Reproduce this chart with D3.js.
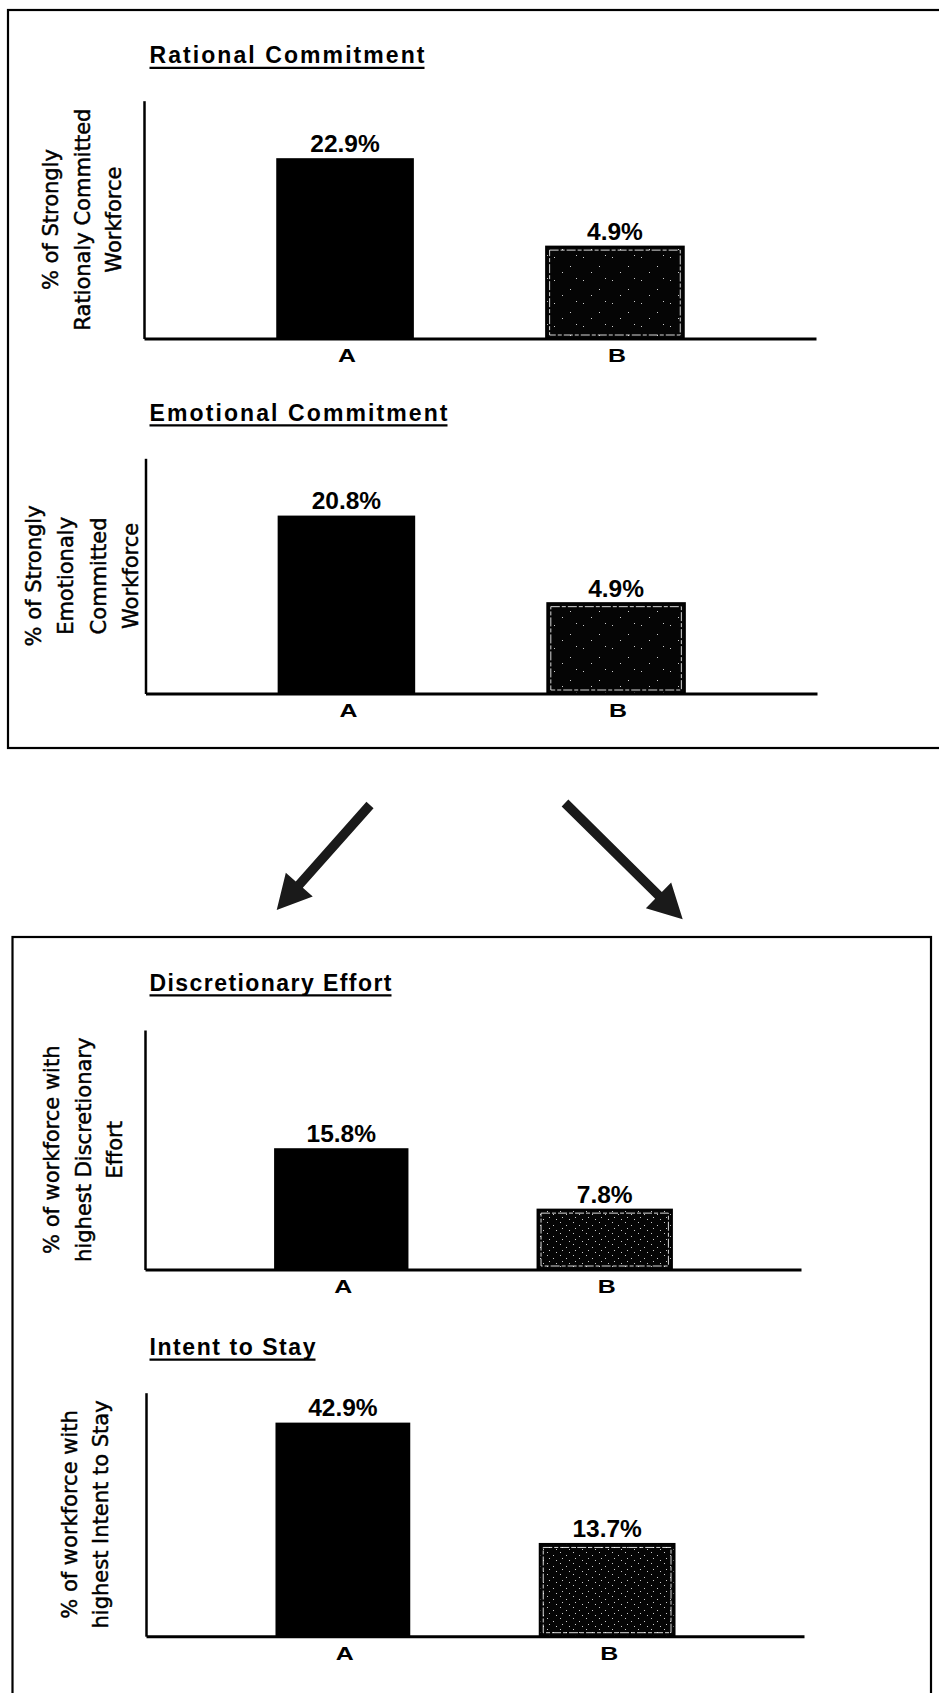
<!DOCTYPE html>
<html>
<head>
<meta charset="utf-8">
<script src="https://cdn.jsdelivr.net/npm/d3@7"></script>
<style>
  html, body { margin: 0; padding: 0; background: #fff; }
  svg { display: block; }
</style>
</head>
<body>
<svg id="fig" width="939" height="1693"></svg>
<script>
// ---- data ----
const categories = ["A", "B"];
const rationalValues  = [22.9, 4.9];
const emotionalValues = [20.8, 4.9];
const effortValues    = [15.8, 7.8];
const stayValues      = [42.9, 13.7];

const panelTitles = [
  "Rational Commitment",
  "Emotional Commitment",
  "Discretionary Effort",
  "Intent to Stay"
];
const axisTitles = [
  ["% of Strongly", "Rationaly Committed", "Workforce"],
  ["% of Strongly", "Emotionaly", "Committed", "Workforce"],
  ["% of workforce with", "highest Discretionary", "Effort"],
  ["% of workforce with", "highest Intent to Stay"]
];
const seriesValues = [rationalValues, emotionalValues, effortValues, stayValues];

// ---- layout of each small chart (value domain is per chart, axes carry no ticks) ----
const layout = [
  { top: 100.7,  base: 338.5,  left: 144,   right: 816, domain: [-13.8, 34.6], titleY: 63.3,  titleW: 275, labelX: 84, gap: 31.5, texture: "speckSparse" },
  { top: 458.3,  base: 693.5,  left: 145.5, right: 817, domain: [-11.5, 31.2], titleY: 420.7, titleW: 298, labelX: 84, gap: 32.3, texture: "speckSparse" },
  { top: 1030,   base: 1269.5, left: 145,   right: 801, domain: [0, 31.2],     titleY: 990.7, titleW: 242, labelX: 85, gap: 31.5, texture: "speckDense" },
  { top: 1392.7, base: 1636.2, left: 146,   right: 804, domain: [-8.5, 50.1],  titleY: 1355,  titleW: 166, labelX: 87, gap: 30.5, texture: "speckDense" }
];

const svg = d3.select("#fig");
const defs = svg.append("defs");

// stippled fill for the second bar
function speckPattern(id, w, h, dots) {
  const p = defs.append("pattern").attr("id", id)
    .attr("patternUnits", "userSpaceOnUse").attr("width", w).attr("height", h);
  p.append("rect").attr("width", w).attr("height", h).attr("fill", "#050505");
  p.selectAll("rect.d").data(dots).join("rect").attr("class", "d")
    .attr("x", d => d[0]).attr("y", d => d[1])
    .attr("width", 1).attr("height", 1).attr("fill", "#fff").attr("opacity", 0.8);
}
speckPattern("speckSparse", 29, 23, [[3, 4], [19, 13], [11, 19], [25, 2]]);
speckPattern("speckDense", 13, 11, [[1, 1], [7, 4], [3, 7], [10, 9]]);

// ---- frames ----
svg.append("rect").attr("x", 8).attr("y", 10).attr("width", 950).attr("height", 738)
  .attr("fill", "none").attr("stroke", "#000").attr("stroke-width", 2.2);
svg.append("rect").attr("x", 12.5).attr("y", 937).attr("width", 918.5).attr("height", 780)
  .attr("fill", "none").attr("stroke", "#000").attr("stroke-width", 2.2);

// ---- connecting arrows ----
const arrows = [
  { from: [370, 805], to: [276.7, 910] },
  { from: [565, 803], to: [682.7, 919.3] }
];
function arrowPath(a, shaft, headLen, headW) {
  const [x0, y0] = a.from, [x1, y1] = a.to;
  const L = Math.hypot(x1 - x0, y1 - y0), ux = (x1 - x0) / L, uy = (y1 - y0) / L;
  const px = -uy, py = ux;
  const bx = x1 - ux * headLen, by = y1 - uy * headLen;
  const pts = [
    [x0 + px * shaft / 2, y0 + py * shaft / 2],
    [bx + px * shaft / 2, by + py * shaft / 2],
    [bx + px * headW / 2, by + py * headW / 2],
    [x1, y1],
    [bx - px * headW / 2, by - py * headW / 2],
    [bx - px * shaft / 2, by - py * shaft / 2],
    [x0 - px * shaft / 2, y0 - py * shaft / 2]
  ];
  return d3.line()(pts) + "Z";
}
svg.selectAll("path.arrow").data(arrows).join("path").attr("class", "arrow")
  .attr("d", d => arrowPath(d, 9.5, 34, 36))
  .attr("fill", "#1a1a1a");

// ---- the four bar charts ----
layout.forEach((L, i) => {
  const values = seriesValues[i];
  const g = svg.append("g");

  const x = d3.scaleBand().domain(categories).range([L.left, L.right]).padding(0.49);
  const y = d3.scaleLinear().domain(L.domain).range([L.base, L.top]);

  // title with underline
  g.append("text")
    .attr("x", 149.5).attr("y", L.titleY)
    .attr("textLength", L.titleW).attr("lengthAdjust", "spacing")
    .attr("font-family", "'Liberation Sans', Arial, sans-serif")
    .attr("font-weight", "bold").attr("font-size", 23)
    .attr("fill", "#000")
    .text(panelTitles[i]);
  g.append("line")
    .attr("x1", 149.5).attr("x2", 149.5 + L.titleW)
    .attr("y1", L.titleY + 4.6).attr("y2", L.titleY + 4.6)
    .attr("stroke", "#000").attr("stroke-width", 2.2);

  // bars
  g.selectAll("rect.bar").data(values).join("rect").attr("class", "bar")
    .attr("x", (d, j) => x(categories[j]))
    .attr("width", x.bandwidth())
    .attr("y", d => y(d))
    .attr("height", d => y(L.domain[0]) - y(d))
    .attr("fill", (d, j) => j === 0 ? "#000" : `url(#${L.texture})`)
    .attr("stroke", "#000")
    .attr("stroke-width", (d, j) => j === 0 ? 0 : 2);

  // light inner rule on the stippled bar
  g.selectAll("rect.inner").data(values.slice(1)).join("rect").attr("class", "inner")
    .attr("x", x(categories[1]) + 3.5)
    .attr("width", x.bandwidth() - 7)
    .attr("y", d => y(d) + 3.5)
    .attr("height", d => y(L.domain[0]) - y(d) - 7)
    .attr("fill", "none").attr("stroke", "#fff").attr("stroke-width", 1)
    .attr("stroke-dasharray", "9 2 4 2").attr("opacity", 0.85);

  // axes: vertical line without ticks, thick base line
  const yAxis = d3.axisLeft(y).tickValues([]).tickSizeOuter(0);
  g.append("g").attr("transform", `translate(${L.left},0)`).call(yAxis)
    .select(".domain").attr("stroke", "#000").attr("stroke-width", 2.5);
  const xAxis = d3.axisBottom(x).tickSize(0);
  const xa = g.append("g").attr("transform", `translate(0,${L.base})`).call(xAxis);
  xa.select(".domain").attr("stroke", "#000").attr("stroke-width", 3);
  xa.selectAll(".tick text")
    .attr("dy", null).attr("y", 23.5)
    .attr("font-family", "'Liberation Sans', Arial, sans-serif")
    .attr("font-weight", "bold").attr("font-size", 19)
    .attr("fill", "#000")
    .attr("textLength", 18).attr("lengthAdjust", "spacingAndGlyphs")
    .attr("text-anchor", "middle");
  xa.selectAll(".tick").attr("transform", d => `translate(${x(d) + x.bandwidth() / 2 + 2},0)`);

  // value labels
  g.selectAll("text.val").data(values).join("text").attr("class", "val")
    .attr("x", (d, j) => x(categories[j]) + x.bandwidth() / 2)
    .attr("y", d => y(d) - 6.5)
    .attr("text-anchor", "middle")
    .attr("font-family", "'Liberation Sans', Arial, sans-serif")
    .attr("font-weight", "bold").attr("font-size", 24.5)
    .attr("fill", "#000")
    .text(d => d.toFixed(1) + "%");

  // rotated axis title, one text per line
  const lines = axisTitles[i];
  const midY = (L.top + L.base) / 2;
  const n = lines.length;
  g.selectAll("text.ytitle").data(lines).join("text").attr("class", "ytitle")
    .attr("transform", (d, k) => {
      const bx = L.labelX + (k - (n - 1) / 2) * L.gap + 5.5;
      return `translate(${bx},${midY}) rotate(-90)`;
    })
    .attr("text-anchor", "middle")
    .attr("font-family", "'DejaVu Sans', sans-serif")
    .attr("font-size", 21)
    .attr("fill", "#000")
    .attr("stroke", "#000").attr("stroke-width", 0.45)
    .text(d => d);
});
</script>
</body>
</html>
